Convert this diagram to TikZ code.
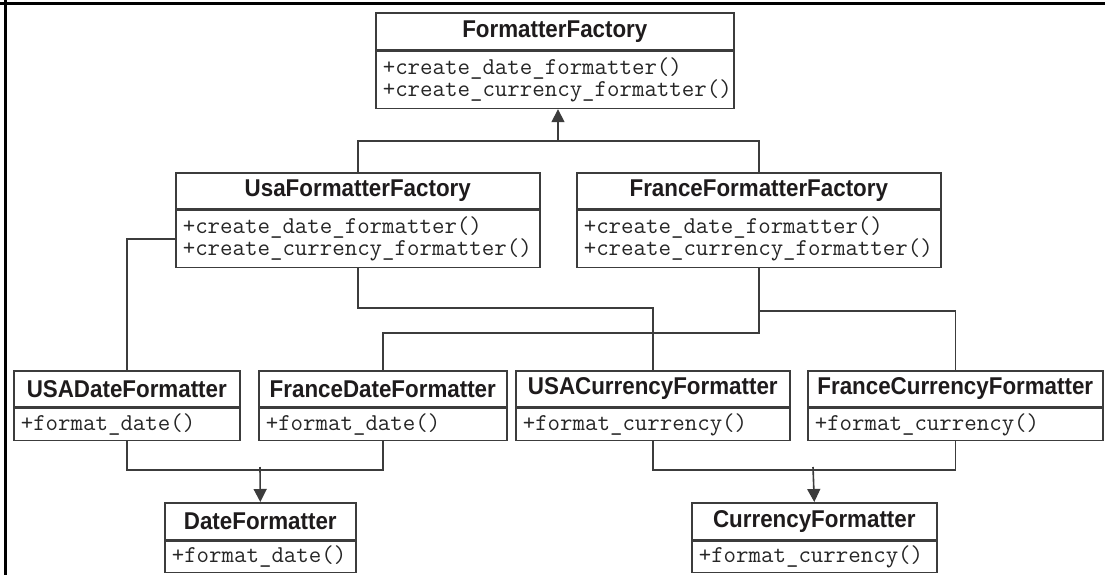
\documentclass[tikz,border=0pt]{standalone}
\usepackage{fontspec}
\setmainfont{Liberation Sans}
\newfontfamily\ttlfont{Liberation Sans}[FakeStretch=0.92]
\usetikzlibrary{arrows.meta}
\definecolor{ln}{HTML}{3C3C3C}
\definecolor{txt}{HTML}{1E1B1C}
\definecolor{mtxt}{HTML}{262626}
\tikzset{
  hdr/.style={draw=ln, line width=1.6pt, inner sep=0pt, text=txt,
    font=\ttlfont\bfseries\fontsize{24.3}{26}\selectfont},
  bdy/.style={draw=ln, line width=1.6pt, inner xsep=7pt, inner ysep=0pt, align=left, text=mtxt,
    font=\ttfamily\fontsize{24.2}{21.5}\selectfont},
  conn/.style={draw=ln, line width=1.6pt},
  arr/.style={conn, -{Triangle[width=13pt,length=13pt]}},
  frame/.style={draw=black, line width=3.5pt}
}
\newcommand\umlbox[8]{%
  \node[hdr, anchor=north west, minimum width=#4pt, minimum height=#5pt] (#1) at (#2,#3) {#7};
  \node[bdy, anchor=north west, minimum width=#4pt, minimum height=#6pt, text width=#4pt-14pt] (#1b) at (#1.south west) {#8};}
\begin{document}
\begin{tikzpicture}[x=1pt,y=-1pt]
\useasboundingbox (0,0) rectangle (1105,575);
\fill[white] (0,0) rectangle (1105,575);
\draw[frame] (0,3.4) -- (1105,3.4);
\draw[frame] (5.6,0) -- (5.6,575);

\umlbox{ff}{375}{12}{358}{37}{57}{FormatterFactory}{+create\_date\_formatter()\\+create\_currency\_formatter()}
\umlbox{usa}{175}{172}{364}{36}{57}{UsaFormatterFactory}{+create\_date\_formatter()\\+create\_currency\_formatter()}
\umlbox{fra}{576}{172}{364}{36}{57}{FranceFormatterFactory}{+create\_date\_formatter()\\+create\_currency\_formatter()}

\umlbox{usd}{13}{370}{226}{36}{32}{USADateFormatter}{+format\_date()}
\umlbox{frd}{258}{370}{248}{36}{32}{FranceDateFormatter}{+format\_date()}
\umlbox{usc}{515}{370}{274}{36}{32}{USACurrencyFormatter}{+format\_currency()}
\umlbox{frc}{807}{370}{295}{36}{32}{FranceCurrencyFormatter}{+format\_currency()}

\umlbox{df}{164}{502}{191}{37}{31}{DateFormatter}{+format\_date()}
\umlbox{cf}{691}{502}{245}{37}{31}{CurrencyFormatter}{+format\_currency()}

% inheritance to FormatterFactory
\draw[conn] (usa.north) -- ++(0,-31) -| (fra.north);
\coordinate (j1) at (558,141);
\draw[arr] (j1) -- (j1 |- ffb.south);

% factories to products
\draw[conn] (usab.west) -| (usd.north);
\draw[conn] (usab.south) -- ++(0,40) -| (usc.north);
\draw[conn] (frab.south) -- ++(0,65) -| (frd.north);
\draw[conn] (frab.south) ++(0,43) -| (frc.north);

% products to interfaces
\draw[conn] (usdb.south) -- ++(0,29) -| (frdb.south);
\coordinate (j2) at (260,467);
\draw[arr] (j2) -- (df.north);
\draw[conn] (uscb.south) -- ++(0,29) -| (frcb.south);
\coordinate (j3) at (813,467);
\draw[arr] (j3) -- (cf.north);
\end{tikzpicture}
\end{document}
